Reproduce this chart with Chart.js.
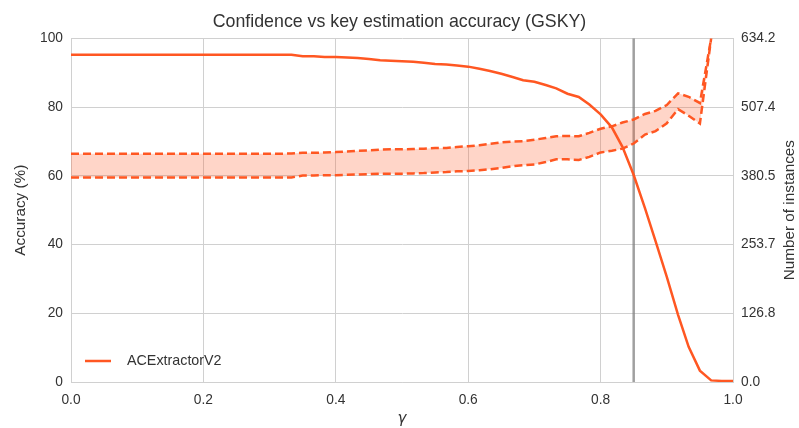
<!DOCTYPE html>
<html>
<head>
<meta charset="utf-8">
<script src="https://cdn.jsdelivr.net/npm/chart.js@4.4.1/dist/chart.umd.min.js"></script>
<style>
  html, body { margin: 0; padding: 0; background: #fff; }
  #wrap { width: 799px; height: 428px; }
</style>
</head>
<body>
<div id="wrap"><canvas id="gskyChart"></canvas></div>
<script>
// Umbral de confianza gamma (paso de 1/60)
const gamma = [0, 0.017, 0.033, 0.05, 0.067, 0.083, 0.1, 0.117, 0.133, 0.15,
  0.167, 0.183, 0.2, 0.217, 0.233, 0.25, 0.267, 0.283, 0.3, 0.317,
  0.333, 0.35, 0.367, 0.383, 0.4, 0.417, 0.433, 0.45, 0.467, 0.483,
  0.5, 0.517, 0.533, 0.55, 0.567, 0.583, 0.6, 0.617, 0.633, 0.65,
  0.667, 0.683, 0.7, 0.717, 0.733, 0.75, 0.767, 0.783, 0.8, 0.817,
  0.833, 0.85, 0.867, 0.883, 0.9, 0.917, 0.933, 0.95, 0.967, 0.983, 1.0];

// Número de instancias que superan el umbral
const instancias = [604, 604, 604, 604, 604, 604, 604, 604, 604, 604,
  604, 604, 604, 604, 604, 604, 604, 604, 604, 604,
  604, 601, 601, 600, 600, 599, 598, 596, 594, 593,
  592, 591, 589, 587, 586, 584, 582, 578, 574, 569,
  563, 557, 554, 548, 542, 532, 526, 512, 494, 470,
  434, 382, 321, 260, 194, 124, 65, 21, 3, 2, 2];

// Intervalo de la precisión (%), límite superior e inferior
const precisionSup = [66.4, 66.4, 66.4, 66.4, 66.4, 66.4, 66.4, 66.4, 66.4, 66.4,
  66.4, 66.4, 66.4, 66.4, 66.4, 66.4, 66.4, 66.4, 66.4, 66.4,
  66.5, 66.7, 66.7, 66.8, 66.9, 67.1, 67.3, 67.4, 67.6, 67.7,
  67.7, 67.8, 67.9, 68.1, 68.1, 68.4, 68.6, 68.9, 69.3, 69.7,
  70.0, 70.1, 70.5, 71.0, 71.5, 71.6, 71.5, 72.5, 73.7, 74.4,
  75.5, 76.4, 78.0, 78.9, 80.6, 84.0, 83.0, 81.2, 100, null, null];

const precisionInf = [59.5, 59.5, 59.5, 59.5, 59.5, 59.5, 59.5, 59.5, 59.5, 59.5,
  59.5, 59.5, 59.5, 59.5, 59.5, 59.5, 59.5, 59.5, 59.5, 59.5,
  59.5, 60.1, 60.1, 60.2, 60.2, 60.3, 60.4, 60.5, 60.6, 60.6,
  60.6, 60.7, 60.8, 61.0, 61.1, 61.3, 61.4, 61.6, 61.9, 62.3,
  62.8, 63.1, 63.3, 64.0, 64.8, 64.8, 64.6, 65.5, 66.8, 67.3,
  67.9, 69.4, 72.0, 73.0, 75.3, 79.4, 77.5, 75.2, 100, null, null];

// Umbral elegido (línea vertical gris)
const gammaElegido = 0.85;

// Marcas del eje derecho
const ticksInstancias = [0.0, 126.8, 253.7, 380.5, 507.4, 634.2];

const naranja = 'rgb(255, 87, 34)';
const fuente = "'Liberation Sans', Arial, sans-serif";
const colorTexto = '#333333';
const colorRejilla = '#d0d0d0';

const puntos = (serie) => gamma.map((g, i) => ({ x: g, y: serie[i] }));

// Leyenda dentro del área del gráfico y título del eje derecho
const extras = {
  id: 'extras',
  afterDraw(chart) {
    const { ctx, chartArea } = chart;
    ctx.save();
    // leyenda
    const ly = chartArea.bottom - 21;
    ctx.strokeStyle = naranja;
    ctx.lineWidth = 2.5;
    ctx.beginPath();
    ctx.moveTo(chartArea.left + 14, ly);
    ctx.lineTo(chartArea.left + 40, ly);
    ctx.stroke();
    ctx.fillStyle = colorTexto;
    ctx.font = "14.3px " + fuente;
    ctx.textBaseline = 'middle';
    ctx.fillText('ACExtractorV2', chartArea.left + 56, ly);
    // título del eje derecho
    ctx.translate(chart.width - 9, (chartArea.top + chartArea.bottom) / 2);
    ctx.rotate(-Math.PI / 2);
    ctx.textAlign = 'center';
    ctx.font = "15.3px " + fuente;
    ctx.fillText('Number of instances', 0, 0);
    ctx.restore();
  }
};

const ctx = document.getElementById('gskyChart').getContext('2d');
const grafico = new Chart(ctx, {
  type: 'line',
  data: {
    datasets: [
      {
        label: 'inf',
        data: puntos(precisionInf),
        yAxisID: 'y',
        borderColor: naranja,
        borderWidth: 2.5,
        borderDash: [8, 4],
        pointRadius: 0,
        fill: false,
        spanGaps: false
      },
      {
        label: 'sup',
        data: puntos(precisionSup),
        yAxisID: 'y',
        borderColor: naranja,
        borderWidth: 2.5,
        borderDash: [8, 4],
        pointRadius: 0,
        fill: '-1',
        backgroundColor: 'rgba(255, 87, 34, 0.25)',
        spanGaps: false
      },
      {
        label: 'ACExtractorV2',
        data: puntos(instancias),
        yAxisID: 'y1',
        borderColor: naranja,
        borderWidth: 2.5,
        pointRadius: 0,
        fill: false
      },
      {
        label: 'umbral',
        data: [{ x: gammaElegido, y: 0 }, { x: gammaElegido, y: 100 }],
        yAxisID: 'y',
        borderColor: 'rgba(128, 128, 128, 0.75)',
        borderWidth: 2.5,
        pointRadius: 0,
        fill: false
      }
    ]
  },
  options: {
    responsive: true,
    maintainAspectRatio: false,
    animation: false,
    layout: { padding: 0 },
    plugins: {
      legend: { display: false },
      tooltip: { enabled: false },
      title: {
        display: true,
        text: 'Confidence vs key estimation accuracy (GSKY)',
        color: colorTexto,
        font: { family: fuente, size: 17.8, weight: 'normal' },
        padding: { top: 11.5, bottom: 5.5 }
      }
    },
    scales: {
      x: {
        type: 'linear',
        min: 0,
        max: 1,
        ticks: {
          stepSize: 0.2,
          padding: 10,
          color: colorTexto,
          font: { family: fuente, size: 13.75 },
          callback: (v) => v.toFixed(1)
        },
        grid: { color: colorRejilla, drawTicks: false },
        border: { color: colorRejilla },
        title: {
          display: true,
          text: 'γ',
          color: colorTexto,
          font: { family: "'DejaVu Sans', sans-serif", size: 15, style: 'italic' },
          padding: 0
        },
        afterFit: (scale) => { scale.height = 46; }
      },
      y: {
        position: 'left',
        min: 0,
        max: 100,
        ticks: {
          stepSize: 20,
          padding: 8,
          color: colorTexto,
          font: { family: fuente, size: 13.75 }
        },
        grid: { color: colorRejilla, drawTicks: false },
        border: { color: colorRejilla },
        title: {
          display: true,
          text: 'Accuracy (%)',
          color: colorTexto,
          font: { family: fuente, size: 15.3 },
          padding: { top: 12, bottom: 0 }
        },
        afterFit: (scale) => { scale.width = 71; }
      },
      y1: {
        position: 'right',
        min: 0,
        max: 634.2,
        afterBuildTicks: (scale) => {
          scale.ticks = ticksInstancias.map((v) => ({ value: v }));
        },
        ticks: {
          padding: 8,
          color: colorTexto,
          font: { family: fuente, size: 13.75 },
          callback: (v) => v.toFixed(1)
        },
        grid: { display: false, drawTicks: false },
        border: { color: colorRejilla },
        afterFit: (scale) => { scale.width = 66; }
      }
    }
  },
  plugins: [extras]
});
</script>
</body>
</html>
